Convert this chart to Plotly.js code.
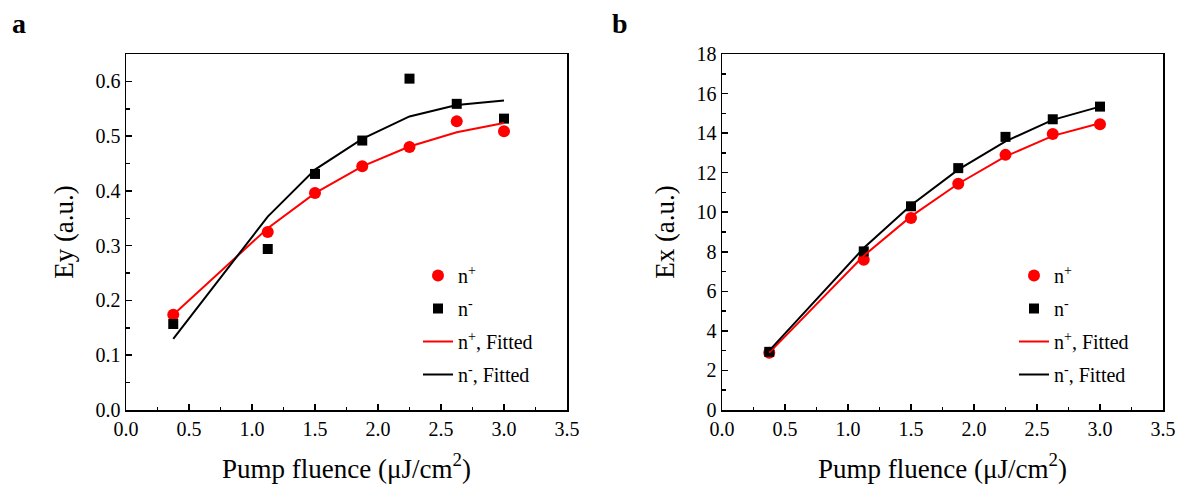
<!DOCTYPE html>
<html>
<head>
<meta charset="utf-8">
<script src="https://cdn.plot.ly/plotly-3.0.1.min.js"></script>
<style>html,body{margin:0;padding:0;background:#fff;}#chart{width:1180px;height:495px;}</style>
</head>
<body>
<div id="chart"></div>
<script>
// Pump fluence (µJ/cm²)
const fluence = [0.375, 1.125, 1.5, 1.875, 2.25, 2.625, 3.0];

// Panel a: Ey (a.u.)
const eyPlus      = [0.174, 0.325, 0.396, 0.445, 0.480, 0.527, 0.509];
const eyMinus     = [0.157, 0.294, 0.431, 0.492, 0.605, 0.559, 0.532];
const eyPlusFit   = [0.174, 0.332, 0.396, 0.445, 0.481, 0.507, 0.524];
const eyMinusFit  = [0.130, 0.353, 0.439, 0.495, 0.536, 0.557, 0.565];

// Panel b: Ex (a.u.)
const exPlus      = [2.89, 7.60, 9.71, 11.44, 12.90, 13.95, 14.45];
const exMinus     = [2.94, 8.02, 10.30, 12.23, 13.81, 14.70, 15.34];
const exPlusFit   = [2.90, 7.80, 9.79, 11.44, 12.82, 13.86, 14.50];
const exMinusFit  = [3.00, 8.19, 10.35, 12.15, 13.58, 14.67, 15.34];

const names = ['n<sup>+</sup>', 'n<sup>-</sup>', 'n<sup>+</sup>, Fitted', 'n<sup>-</sup>, Fitted'];
const RED = '#ff0000', BLK = '#000000';
const FONT = '"Liberation Serif", "Times New Roman", Times, serif';

function panel(xa, ya, leg, plus, minus, plusFit, minusFit) {
  return [
    {x: fluence, y: plus, xaxis: xa, yaxis: ya, legend: leg, name: names[0], legendgroup: leg+'1',
     mode: 'markers', type: 'scatter', marker: {color: RED, symbol: 'circle', size: 12}},
    {x: fluence, y: minus, xaxis: xa, yaxis: ya, legend: leg, name: names[1], legendgroup: leg+'2',
     mode: 'markers', type: 'scatter', marker: {color: BLK, symbol: 'square', size: 10}},
    {x: fluence, y: plusFit, xaxis: xa, yaxis: ya, legend: leg, name: names[2], legendgroup: leg+'3',
     mode: 'lines', type: 'scatter', line: {color: RED, width: 2}},
    {x: fluence, y: minusFit, xaxis: xa, yaxis: ya, legend: leg, name: names[3], legendgroup: leg+'4',
     mode: 'lines', type: 'scatter', line: {color: BLK, width: 2}}
  ];
}

const data = [
  ...panel('x', 'y', 'legend', eyPlus, eyMinus, eyPlusFit, eyMinusFit),
  ...panel('x2', 'y2', 'legend2', exPlus, exMinus, exPlusFit, exMinusFit)
];

const tickFont = {family: FONT, size: 20, color: '#000'};
const titleFont = {family: FONT, size: 27, color: '#000'};

function xAxis(domain, anchor) {
  return {
    domain: domain, anchor: anchor, range: [0, 3.5], dtick: 0.5, tick0: 0, tickformat: '.1f',
    ticks: 'inside', ticklen: 6, tickwidth: 1.5, tickcolor: '#000',
    minor: {ticks: 'inside', ticklen: 3.5, tickwidth: 1.5, tickcolor: '#000', dtick: 0.25},
    showline: true, linecolor: '#000', linewidth: 1.5, mirror: true, showgrid: false, zeroline: false,
    tickfont: tickFont, automargin: false,
    title: {text: 'Pump fluence (μJ/cm<sup>2</sup>)', font: titleFont, standoff: 20}
  };
}

function yAxis(domain, anchor, range, dtick, minorDtick, fmt, title) {
  return {
    domain: domain, anchor: anchor, range: range, dtick: dtick, tick0: 0, tickformat: fmt,
    ticks: 'inside', ticklen: 6, tickwidth: 1.5, tickcolor: '#000',
    minor: {ticks: 'inside', ticklen: 3.5, tickwidth: 1.5, tickcolor: '#000', dtick: minorDtick},
    showline: true, linecolor: '#000', linewidth: 1.5, mirror: true, showgrid: false, zeroline: false,
    tickfont: tickFont, automargin: false,
    title: {text: title, font: titleFont, standoff: 14}
  };
}

const ydom = [1 - 410/495, 1 - 54/495];
const legendBase = {
  font: {family: FONT, size: 20, color: '#000'}, bgcolor: 'rgba(0,0,0,0)', borderwidth: 0,
  traceorder: 'grouped', tracegroupgap: 4, xanchor: 'left', yanchor: 'top'
};

const layout = {
  width: 1180, height: 495,
  margin: {l: 0, r: 0, t: 0, b: 0},
  paper_bgcolor: '#fff', plot_bgcolor: '#fff',
  font: {family: FONT, color: '#000'},
  showlegend: true,
  xaxis: xAxis([126/1180, 567/1180], 'y'),
  yaxis: yAxis(ydom, 'x', [0, 0.65], 0.1, 0.05, '.1f', 'Ey (a.u.)'),
  xaxis2: xAxis([722/1180, 1163/1180], 'y2'),
  yaxis2: yAxis(ydom, 'x2', [0, 18], 2, 1, 'd', 'Ex (a.u.)'),
  legend: Object.assign({x: 418/1180, y: 1 - 256/495}, legendBase),
  legend2: Object.assign({x: 1014/1180, y: 1 - 256/495}, legendBase),
  annotations: [
    {text: '<b>a</b>', xref: 'paper', yref: 'paper', x: 10/1180, y: 1 - 6/495, xanchor: 'left', yanchor: 'top',
     showarrow: false, font: {family: FONT, size: 28, color: '#000'}},
    {text: '<b>b</b>', xref: 'paper', yref: 'paper', x: 610/1180, y: 1 - 6/495, xanchor: 'left', yanchor: 'top',
     showarrow: false, font: {family: FONT, size: 28, color: '#000'}}
  ]
};

Plotly.newPlot('chart', data, layout, {staticPlot: true, displayModeBar: false});
</script>
</body>
</html>
